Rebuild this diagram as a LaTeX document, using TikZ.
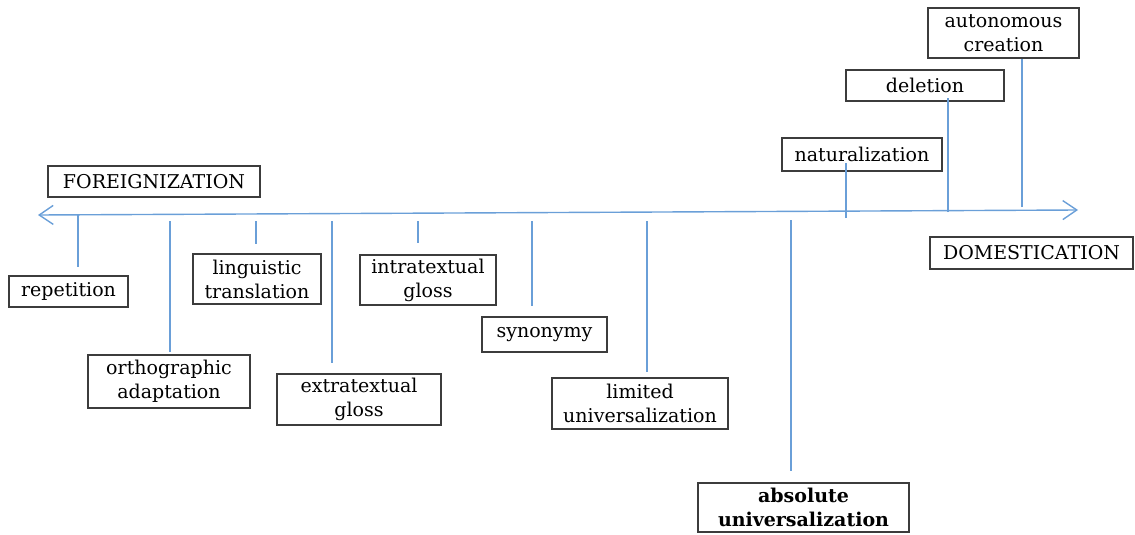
\documentclass[tikz,border=0pt]{standalone}
\usepackage{fontspec}
\setmainfont{DejaVu Serif}
\usepackage{tikz}
\usetikzlibrary{arrows.meta,positioning,calc}
\usepackage{xcolor}
\definecolor{axisblue}{HTML}{6A9FD8}
\definecolor{boxgray}{HTML}{3C3C3C}

\begin{document}
\begin{tikzpicture}[
  x=1pt, y=-1pt,
  tbox/.style={rectangle, draw=boxgray, line width=1.1pt, inner sep=0pt, align=center, font=\fontsize{19}{24}\selectfont},
  stem/.style={draw=axisblue, line width=1.4pt},
  axisline/.style={draw=axisblue, line width=1.4pt, {Straight Barb[length=14pt,width=19pt]}-{Straight Barb[length=14pt,width=19pt]}}
]
  \useasboundingbox (0,0) rectangle (1135,535);
  % the two poles
  \node[tbox, minimum width=212pt, minimum height=31pt] (fore) at (154,181.5) {FOREIGNIZATION};
  \node[tbox, minimum width=203pt, minimum height=32pt] (dom) at (1031.5,253) {DOMESTICATION};
  % strategies below the axis
  \node[tbox, minimum width=119pt, minimum height=31pt] (rep) at (68.5,291.5) {repetition};
  \node[tbox, minimum width=162pt, minimum height=53pt] (orth) at (169,381.5) {orthographic\\adaptation};
  \node[tbox, minimum width=128pt, minimum height=50pt] (ling) at (257,279) {linguistic\\translation};
  \node[tbox, minimum width=164pt, minimum height=51pt] (extra) at (359,399.5) {extratextual\\gloss};
  \node[tbox, minimum width=136pt, minimum height=50pt] (intra) at (428,280) {intratextual\\gloss};
  \node[tbox, minimum width=125pt, minimum height=35pt] (syn) at (544.5,334.5) {synonymy};
  \node[tbox, minimum width=176pt, minimum height=51pt] (lim) at (640,403.5) {limited\\universalization};
  \node[tbox, minimum width=211pt, minimum height=49pt, font=\fontsize{19}{24}\selectfont\bfseries] (abs) at (803.5,507.5) {absolute\\universalization};
  % strategies above the axis
  \node[tbox, minimum width=160pt, minimum height=33pt] (nat) at (862,154.5) {naturalization};
  \node[tbox, minimum width=158pt, minimum height=31pt] (del) at (925,85.5) {deletion};
  \node[tbox, minimum width=151pt, minimum height=50pt] (auto) at (1003.5,33) {autonomous\\creation};
  % axis
  \coordinate (west) at (38,215);
  \coordinate (east) at (1078,210);
  \draw[axisline] (west) -- (east);
  % stems
  \coordinate (s1) at (78,215);
  \coordinate (s2) at (170,221);
  \coordinate (s3) at (256,221);
  \coordinate (s4) at (332,221);
  \coordinate (s5) at (418,221);
  \coordinate (s6) at (532,221);
  \coordinate (s7) at (647,221);
  \coordinate (s8) at (791,220);
  \coordinate (s9) at (846,218);
  \coordinate (s10) at (948,212);
  \coordinate (s11) at (1022,207);
  \draw[stem, shorten >=8pt] (s1) -- (s1 |- rep.north);
  \draw[stem, shorten >=2pt] (s2) -- (s2 |- orth.north);
  \draw[stem, shorten >=9pt] (s3) -- (s3 |- ling.north);
  \draw[stem, shorten >=10pt] (s4) -- (s4 |- extra.north);
  \draw[stem, shorten >=11pt] (s5) -- (s5 |- intra.north);
  \draw[stem, shorten >=10pt] (s6) -- (s6 |- syn.north);
  \draw[stem, shorten >=5pt] (s7) -- (s7 |- lim.north);
  \draw[stem, shorten >=11pt] (s8) -- (s8 |- abs.north);
  \draw[stem, shorten >=-9pt] (s9) -- (s9 |- nat.south);
  \draw[stem, shorten >=-4pt] (s10) -- (s10 |- del.south);
  \draw[stem] (s11) -- (s11 |- auto.south);
\end{tikzpicture}
\end{document}
